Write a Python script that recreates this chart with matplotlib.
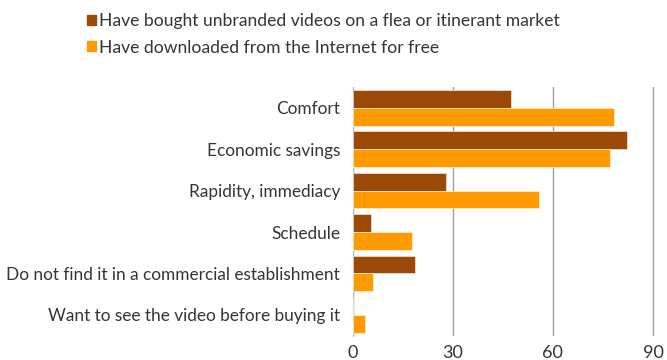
import matplotlib
matplotlib.use("Agg")
import matplotlib.pyplot as plt
from matplotlib.patches import Patch
import numpy as np

categories = ["Comfort", "Economic savings", "Rapidity, immediacy", "Schedule",
              "Do not find it in a commercial establishment",
              "Want to see the video before buying it"]
series_names = ["Have bought unbranded videos on a flea or itinerant market",
                "Have downloaded from the Internet for free"]
bought = [47.6, 82.3, 28.1, 5.4, 18.6, 0]
downloaded = [78.2, 77.1, 55.8, 17.7, 6.0, 3.7]
xticks = [0, 30, 60, 90]

c_dark = "#9A4A06"
c_orange = "#FF9A00"
txt = "#353535"

plt.rcParams['font.family'] = ['Lato', 'DejaVu Sans']

fig = plt.figure(figsize=(6.67, 3.6), dpi=100)
ax = fig.add_axes([0.5285, 0.068, 0.4555, 0.69])

y = np.arange(len(categories))
h = 0.43
ax.barh(y - h/2, bought, height=h, color=c_dark, edgecolor="#f3e6dc", linewidth=0.5, zorder=3)
ax.barh(y + h/2, downloaded, height=h, color=c_orange, edgecolor="#fff2de", linewidth=0.5, zorder=3)

ax.set_ylim(len(categories) - 0.5, -0.5)
ax.set_xlim(0, 91)
ax.set_xticks(xticks)
ax.set_xticklabels([str(t) for t in xticks], fontsize=13, color=txt)
ax.set_yticks(y)
ax.set_yticklabels(categories, fontsize=12.5, color=txt)
ax.tick_params(axis='both', length=0)
ax.tick_params(axis='y', pad=9)
ax.tick_params(axis='x', pad=7)
for s in ["top", "right", "bottom"]:
    ax.spines[s].set_visible(False)
ax.spines["left"].set_color("#bbbbbb")
ax.xaxis.grid(True, color="#a0a0a0", linewidth=1, zorder=0)
ax.set_axisbelow(True)

# measure text widths to match reference pixel widths
fig.canvas.draw()
r = fig.canvas.get_renderer()
lab = ax.get_yticklabels()[4]
w_lab = lab.get_window_extent(r).width
fs_lab = 12.5 * 336.0 / w_lab
for t in ax.get_yticklabels():
    t.set_fontsize(fs_lab)

tmp = fig.text(0, 0, series_names[0], fontsize=12.5)
w_leg = tmp.get_window_extent(r).width
tmp.remove()
fs_leg = 12.5 * 462.0 / w_leg
em = fs_leg * 100 / 72.0

handles = [Patch(color=c_dark), Patch(color=c_orange)]
fig.legend(handles, series_names, loc="upper left",
           bbox_to_anchor=(86.7 / 667 - 0.4 * em / 667, 1.0 - 6.0 / 360),
           frameon=False, fontsize=fs_leg, handlelength=9.0 / em, handleheight=9.0 / em,
           handletextpad=3.3 / em, labelspacing=0.6, labelcolor=txt, borderaxespad=0)

fig.savefig("out.png", dpi=100)
